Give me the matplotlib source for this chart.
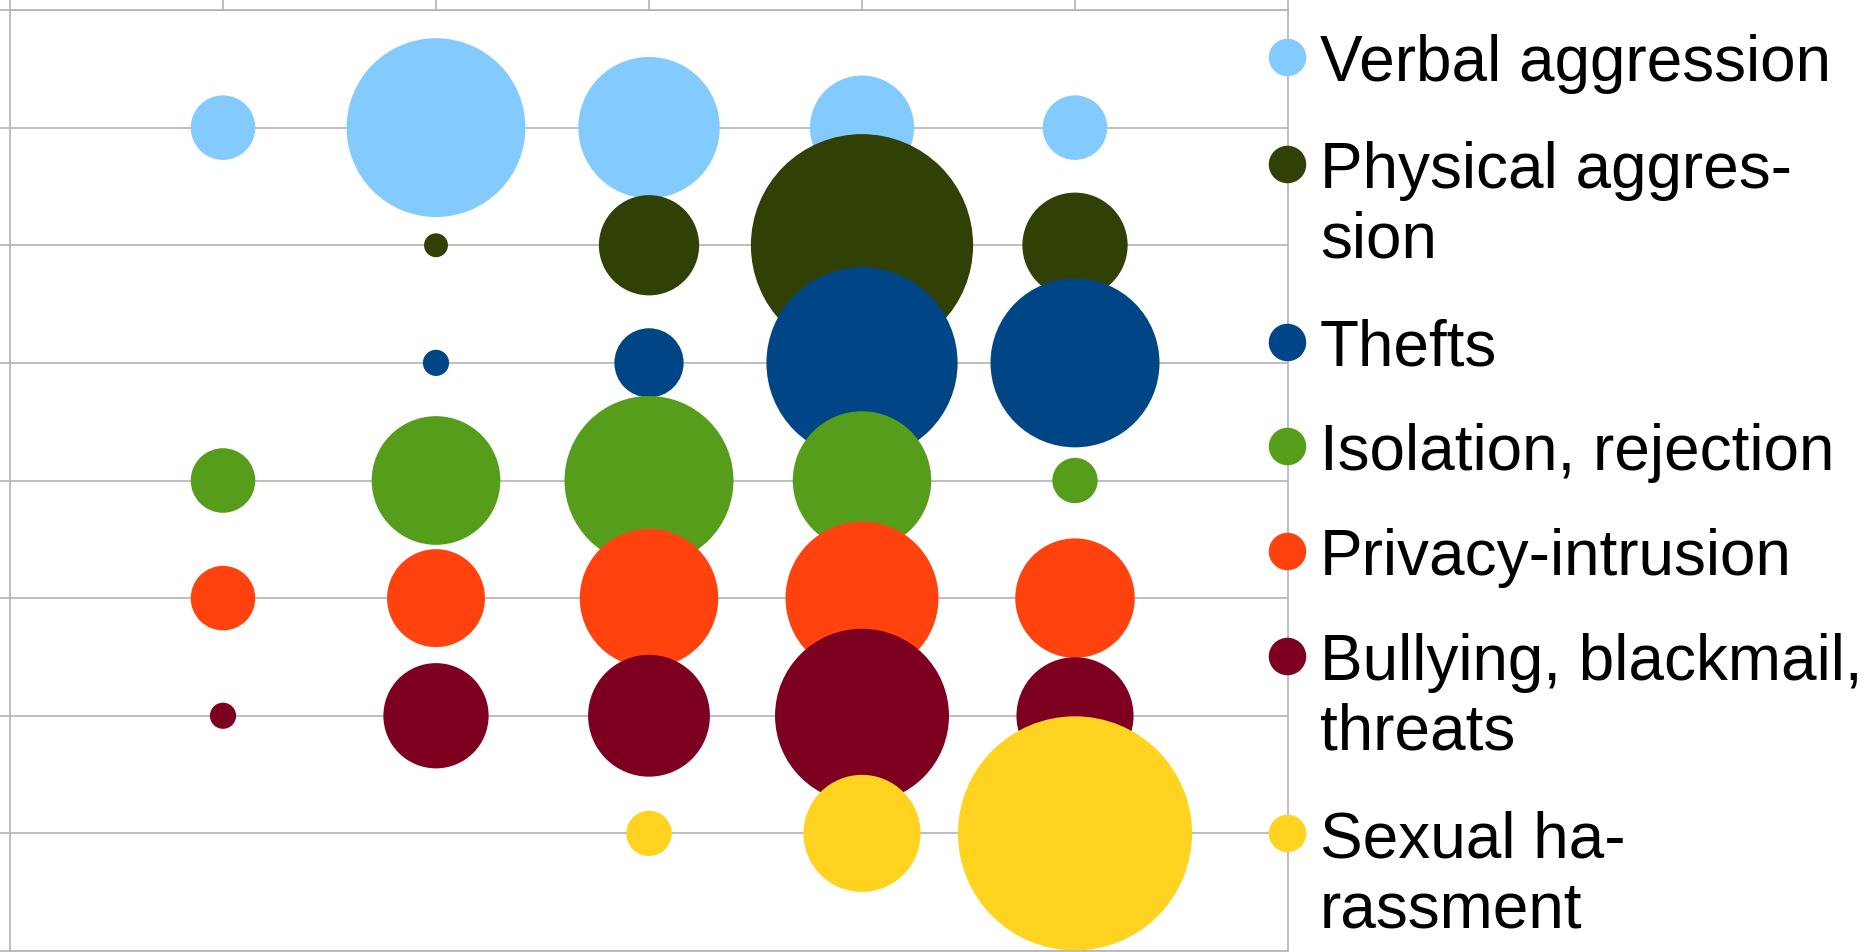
import matplotlib
matplotlib.use("Agg")
import matplotlib.pyplot as plt
import numpy as np

plt.rcParams['font.family'] = ['Liberation Sans', 'DejaVu Sans']

# categories (rows, top to bottom) and columns
series = ["Verbal aggression", "Physical aggression", "Thefts",
          "Isolation, rejection", "Privacy-intrusion",
          "Bullying, blackmail, threats", "Sexual harassment"]
legend_labels = ["Verbal aggression", "Physical aggres-\nsion", "Thefts",
                 "Isolation, rejection", "Privacy-intrusion",
                 "Bullying, blackmail,\nthreats", "Sexual ha-\nrassment"]
colors = ["#83CAFF", "#314004", "#004586", "#579D1C",
          "#FF420E", "#7E0021", "#FFD320"]
columns = [1, 2, 3, 4, 5]

# bubble values (area-proportional), 0 = no bubble
verbal    = [7.3, 56, 35, 19, 7.3]
physical  = [0, 1.0, 17.6, 86.5, 19.4]
thefts    = [0, 1.2, 8.4, 64, 50]
isolation = [7.3, 29, 50, 33.6, 3.6]
privacy   = [7.3, 16.8, 33.6, 41, 25]
bullying  = [1.2, 19.4, 26, 53, 24]
sexual    = [0, 0, 3.6, 24, 96]
values = [verbal, physical, thefts, isolation, privacy, bullying, sexual]
rows = [7, 6, 5, 4, 3, 2, 1]

W, H = 1874, 952
fig = plt.figure(figsize=(W / 100, H / 100), dpi=100)
ax = fig.add_axes([10 / W, 1 / H, (1288 - 10) / W, (942 - 1) / H])

size_k = 296  # points^2 per unit of value
for name, vals, row, col in zip(series, values, rows, colors):
    v = np.array(vals, dtype=float)
    mask = v > 0
    ax.scatter(np.array(columns)[mask], np.full(mask.sum(), row),
               s=v[mask] * size_k, color=col, edgecolors='none',
               zorder=3, clip_on=True)

ax.set_xlim(0, 6)
ax.set_ylim(0, 8)
ax.set_yticks(range(0, 9))
ax.set_yticklabels([])
ax.xaxis.tick_top()
ax.set_xticks(range(0, 7))
ax.set_xticklabels([])
ax.tick_params(axis='both', direction='out', length=7, width=1.2,
               color='#b3b3b3')
ax.grid(axis='y', color='#b3b3b3', linewidth=1.2, zorder=0)
for sp in ax.spines.values():
    sp.set_color('#b3b3b3')
    sp.set_linewidth(1.2)

# legend drawn by hand to follow the original layout
leg_y = [57, 164, 342, 446, 551, 656, 833]
line_h = 70
for lab, col, y in zip(legend_labels, colors, leg_y):
    fig.lines.append(plt.Line2D([1287 / W], [1 - y / H], marker='o',
                                markersize=27, color=col,
                                markeredgewidth=0,
                                transform=fig.transFigure))
    for i, line in enumerate(lab.split('\n')):
        fig.text(1320 / W, 1 - (y + 24 + i * line_h) / H, line,
                 fontsize=46, va='baseline', ha='left', color='black')

fig.savefig("out.png", dpi=100)
